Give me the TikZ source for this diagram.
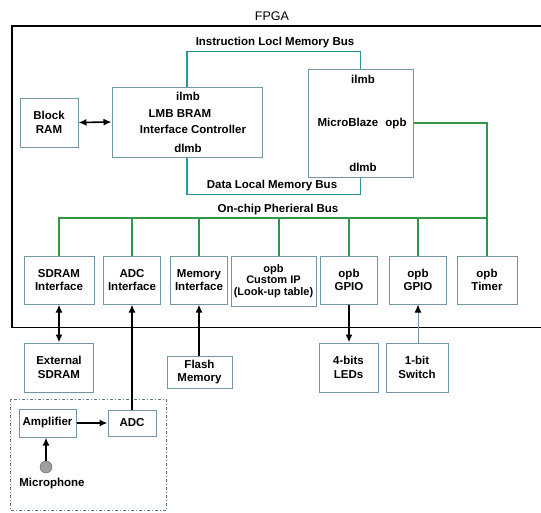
\documentclass[tikz,border=0pt]{standalone}
\usepackage{fontspec}
\setmainfont{Liberation Sans}
\usetikzlibrary{arrows.meta}
\definecolor{boxc}{RGB}{115,150,165}
\definecolor{tealbus}{RGB}{40,150,150}
\definecolor{greenbus}{RGB}{50,150,70}
\definecolor{dashc}{RGB}{90,120,140}
\begin{document}
\begin{tikzpicture}[x=1pt,y=-1pt,
  font=\bfseries\fontsize{11.5}{13.5}\selectfont,
  box/.style={draw=boxc, line width=1pt, inner sep=0pt, align=center, fill=white},
  lbl/.style={inner sep=0pt, align=center},
  tbus/.style={draw=tealbus, line width=1.4pt},
  gbus/.style={draw=greenbus, line width=1.4pt},
  tip/.tip={Latex[length=8pt,width=7pt]},
  arr/.style={line width=1.6pt, -tip},
  darr/.style={line width=1.6pt, tip-tip}]
\useasboundingbox (0,0) rectangle (541,512);
\begin{scope}
\clip (0,0) rectangle (541,512);
% FPGA frame
\draw[line width=1.5pt] (12,26) rectangle (560,327.5);
\node[lbl, font=\fontsize{12.5}{14}\selectfont] (fpga) at (272,16) {FPGA};

% upper boxes
\node[box, minimum width=58pt, minimum height=49pt] (bram) at (49,122.5) {Block\\RAM};
\node[box, minimum width=150pt, minimum height=70pt] (lmb) at (187,122) {};
\node[box, minimum width=105pt, minimum height=108pt] (mb) at (360.5,123) {};
\node[lbl] (lmbi) at (188,96) {ilmb};
\node[lbl] (lmbt1) at (180,114) {LMB BRAM};
\node[lbl] (lmbt2) at (193,129.5) {Interface Controller};
\node[lbl] (lmbd) at (188,148) {dlmb};
\node[lbl] (mbi) at (363,79) {ilmb};
\node[lbl] (mbt) at (348,122) {MicroBlaze};
\node[lbl] (mbo) at (396,124) {opb};
\node[lbl] (mbd) at (363,167) {dlmb};

% LMB buses
\draw[tbus] (lmb.north) -- ++(0,-35) coordinate (ibl) -| (mb.north);
\draw[tbus] (lmb.south) -- ++(0,37) coordinate (dbl) -| (mb.south);
\node[lbl] (ilabel) at (275,43) {Instruction Locl Memory Bus};
\node[lbl] (dlabel) at (272,186) {Data Local Memory Bus};

\draw[darr] (bram.east) -- (lmb.west);

% peripheral boxes
\node[box, minimum width=70pt, minimum height=48pt] (sdi) at (59,280) {SDRAM\\Interface};
\node[box, minimum width=57pt, minimum height=48pt] (adci) at (132,280) {ADC\\Interface};
\node[box, minimum width=57pt, minimum height=48pt] (memi) at (199,280) {Memory\\Interface};
\node[box, minimum width=85pt, minimum height=50pt, font=\bfseries\fontsize{11}{11.5}\selectfont] (cip) at (273.5,281) {opb\\Custom IP\\(Look-up table)};
\node[box, minimum width=57pt, minimum height=48pt] (gpio1) at (349,280) {opb\\GPIO};
\node[box, minimum width=57pt, minimum height=48pt] (gpio2) at (418,280) {opb\\GPIO};
\node[box, minimum width=60pt, minimum height=48pt] (timer) at (487,280) {opb\\Timer};

% OPB bus
\draw[gbus] (mb.east) -| (timer.north);
\coordinate (busr) at (487,218);
\coordinate (cipx) at (279,0);
\draw[gbus] (sdi.north) |- (busr);
\foreach \n in {adci,memi,gpio1,gpio2}{
  \draw[gbus] (\n.north) -- (\n.north |- busr);
}
\draw[gbus] (cip.north -| cipx) -- (cipx |- busr);
\node[lbl] (olabel) at (278,210) {On-chip Pherieral Bus};

% external boxes
\node[box, minimum width=69pt, minimum height=49pt] (ext) at (59,367.5) {External\\SDRAM};
\node[box, minimum width=65pt, minimum height=32pt] (flash) at (199.5,372) {Flash\\Memory};
\node[box, minimum width=59pt, minimum height=49pt] (leds) at (348.5,367.5) {4-bits\\LEDs};
\node[box, minimum width=62pt, minimum height=49pt] (sw) at (417,367.5) {1-bit\\Switch};

% analog front end
\draw[draw=dashc, line width=1pt, dash pattern=on 3pt off 2pt on 1pt off 2pt] (10,399) rectangle (166,510.5);
\node[box, minimum width=57pt, minimum height=28pt] (amp) at (47.5,423) {Amplifier};
\node[box, minimum width=48pt, minimum height=26pt] (adc) at (132,423) {ADC};
\node[circle, draw=gray!70!black, fill=gray!75, minimum size=12pt, inner sep=0pt] (mic) at (46,467) {};
\node[lbl] (micl) at (52,484) {Microphone};

% connectors
\draw[darr] (sdi.south) -- (ext.north);
\draw[arr] (adc.north) -- (adci.south);
\draw[arr] (flash.north -| memi.south) -- (memi.south);
\draw[arr] (gpio1.south) -- (gpio1.south |- leds.north);
\draw[line width=1pt, draw=boxc, -{Latex[length=8pt,width=7pt,fill=black,color=black]}] (sw.north -| gpio2.south) -- (gpio2.south);
\draw[arr] (amp.east) -- (amp.east -| adc.west);
\draw[arr] (mic.north) -- (mic.north |- amp.south);
\end{scope}
\end{tikzpicture}
\end{document}
